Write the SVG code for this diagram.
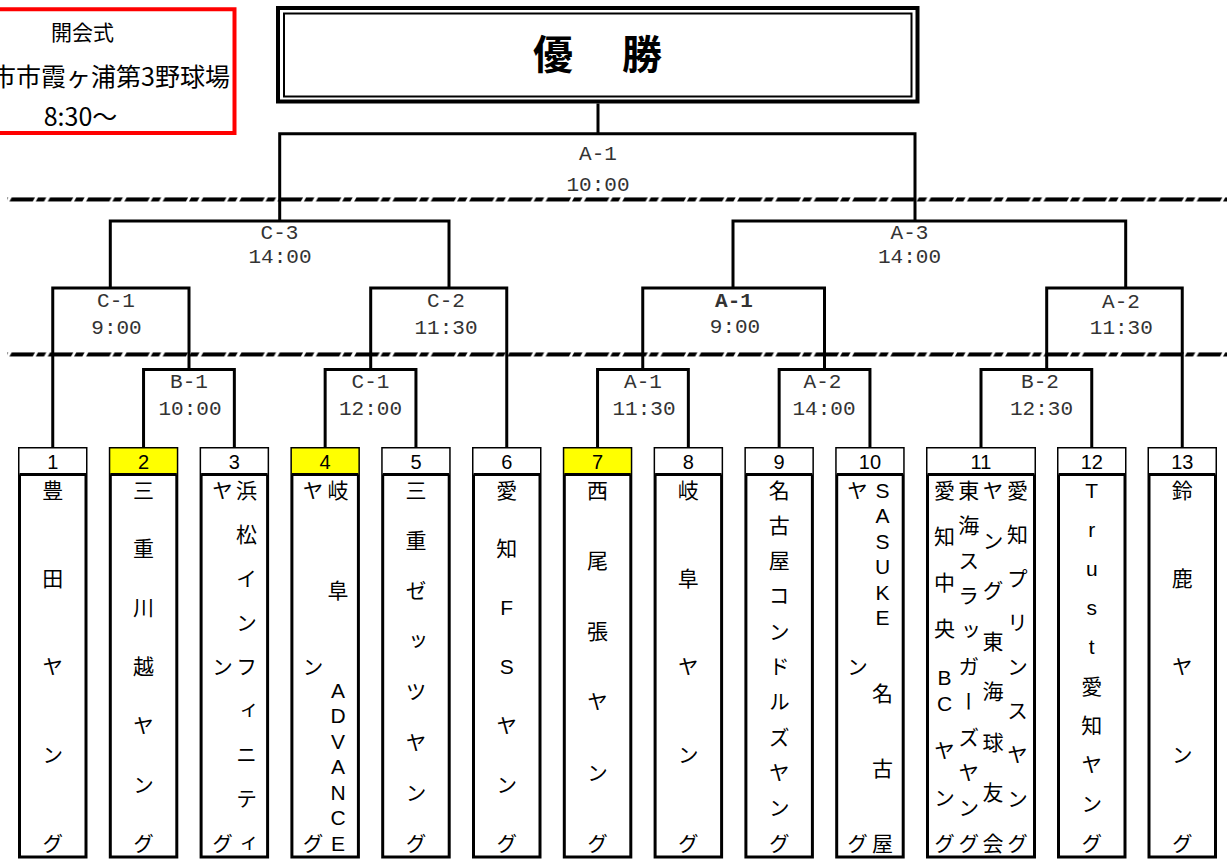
<svg xmlns="http://www.w3.org/2000/svg" width="1227" height="859" viewBox="0 0 1227 859">
<style>
.bg{fill:#ffffff}
.conn{fill:none;stroke:#000;stroke-width:3;stroke-linejoin:miter}
.lbl{font-family:"Liberation Mono","Noto Sans CJK JP",monospace;font-size:21px;fill:#333;text-anchor:middle}
.box{fill:#fff;stroke:#000;stroke-width:3}
.hdr{fill:#fff}
.hdr.win{fill:#ffff00}
.div{stroke:#000;stroke-width:3}
.num{font-family:"Liberation Sans","Noto Sans CJK JP",sans-serif;font-size:20px;fill:#000;text-anchor:middle}
.team{font-family:"Liberation Sans","Noto Sans CJK JP",sans-serif;font-size:21px;fill:#000;text-anchor:middle;font-feature-settings:"vert" 1}
.jp{font-family:"Noto Sans CJK JP",sans-serif;fill:#000}
</style>
<defs>
<pattern id="dashpat" patternUnits="userSpaceOnUse" x="9.3" y="197.25" width="38.3" height="155">
<polygon points="0,4.5 23.3,4.5 25.8,0 2.5,0" fill="#000"/>
<polygon points="26.3,4.5 34.6,4.5 37.1,0 28.8,0" fill="#000"/>
</pattern>
</defs>
<rect class="bg" x="0" y="0" width="1227" height="859"/>

<g id="dividers">
<rect x="7" y="197.25" width="1220" height="4.5" fill="url(#dashpat)"/>
<rect x="7" y="352.25" width="1220" height="4.5" fill="url(#dashpat)"/>
</g>

<g id="opening">
<rect x="-73" y="9.25" width="307.5" height="123.75" fill="#fff" stroke="#ff0000" stroke-width="4"/>
<text class="jp" x="82.5" y="40" font-size="21" text-anchor="middle" fill="#222">開会式</text>
<text class="jp" x="230" y="86" font-size="25" text-anchor="end">市市霞ヶ浦第3野球場</text>
<text class="jp" x="80.5" y="125.5" font-size="25" text-anchor="middle">8:30〜</text>
</g>

<g id="champion">
<rect x="278" y="8" width="639.5" height="93.5" fill="#fff" stroke="#000" stroke-width="4"/>
<rect x="284" y="13.5" width="627.5" height="83" fill="none" stroke="#000" stroke-width="2"/>
<text class="jp" x="553 597.5 642" y="69" font-size="40" font-weight="bold" text-anchor="middle">優　勝</text>
</g>

<g id="connectors">
<path class="conn" d="M598,103.5 V133.7"/>
<path class="conn" d="M279.7,221 V133.7 H915 V221"/>
<path class="conn" d="M110.3,288 V221 H449 V288"/>
<path class="conn" d="M733,288 V221 H1125.7 V288"/>
<path class="conn" d="M52.75,448.5 V288 H189 V369.5"/>
<path class="conn" d="M370.7,369.5 V288 H506.75 V448.5"/>
<path class="conn" d="M642.75,369.5 V288 H824.5 V369.5"/>
<path class="conn" d="M1046.7,369.5 V288 H1182.25 V448.5"/>
<path class="conn" d="M143.55,448.5 V369.5 H234.35 V448.5"/>
<path class="conn" d="M325.15,448.5 V369.5 H415.95 V448.5"/>
<path class="conn" d="M597.55,448.5 V369.5 H688.35 V448.5"/>
<path class="conn" d="M779.15,448.5 V369.5 H869.95 V448.5"/>
<path class="conn" d="M981,448.5 V369.5 H1091.75 V448.5"/>
</g>

<g id="match-labels">
<text class="lbl" x="598" y="160">A-1</text><text class="lbl" x="598" y="191">10:00</text>
<text class="lbl" x="279.5" y="238.5">C-3</text><text class="lbl" x="280" y="262.7">14:00</text>
<text class="lbl" x="909.5" y="239">A-3</text><text class="lbl" x="909.5" y="263">14:00</text>
<text class="lbl" x="116" y="307.3">C-1</text><text class="lbl" x="116.5" y="334">9:00</text>
<text class="lbl" x="446" y="307.3">C-2</text><text class="lbl" x="446" y="334">11:30</text>
<text class="lbl" x="734" y="307.3" font-weight="bold" fill="#000">A-1</text><text class="lbl" x="735" y="333.3">9:00</text>
<text class="lbl" x="1121" y="307.5">A-2</text><text class="lbl" x="1121.3" y="334">11:30</text>
<text class="lbl" x="189" y="388.3">B-1</text><text class="lbl" x="190" y="415">10:00</text>
<text class="lbl" x="370.5" y="388.3">C-1</text><text class="lbl" x="370.5" y="415">12:00</text>
<text class="lbl" x="643" y="388.3">A-1</text><text class="lbl" x="644" y="415">11:30</text>
<text class="lbl" x="822.5" y="388.3">A-2</text><text class="lbl" x="824" y="415">14:00</text>
<text class="lbl" x="1040" y="388.3">B-2</text><text class="lbl" x="1041.5" y="415">12:30</text>
</g>

<g id="team1">
<rect class="box" x="19.5" y="448.5" width="66.5" height="408.5"/>
<rect class="hdr" x="19.5" y="448.5" width="66.5" height="26"/>
<line class="div" x1="19.5" y1="474.5" x2="86" y2="474.5"/>
<text class="num" x="52.75" y="469">1</text>
<text class="team" x="52.75 52.75 52.75 52.75 52.75" y="497.5 585.75 674 762.25 850.5">豊田ヤング</text>
</g>

<g id="team2">
<rect class="box" x="110.3" y="448.5" width="66.5" height="408.5"/>
<rect class="hdr win" x="110.3" y="448.5" width="66.5" height="26"/>
<line class="div" x1="110.3" y1="474.5" x2="176.8" y2="474.5"/>
<text class="num" x="143.55" y="469">2</text>
<text class="team" x="143.55 143.55 143.55 143.55 143.55 143.55 143.55" y="497.5 556.33 615.17 674 732.83 791.67 850.5">三重川越ヤング</text>
</g>

<g id="team3">
<rect class="box" x="201.1" y="448.5" width="66.5" height="408.5"/>
<rect class="hdr" x="201.1" y="448.5" width="66.5" height="26"/>
<line class="div" x1="201.1" y1="474.5" x2="267.6" y2="474.5"/>
<text class="num" x="234.35" y="469">3</text>
<text class="team" x="246.5 246.5 246.5 246.5 246.5 246.5 246.5 246.5 246.5" y="497.5 541.63 585.75 629.88 674 718.13 762.25 806.38 850.5">浜松インフィニティ</text>
<text class="team" x="222.5 222.5 222.5" y="497.5 674 850.5">ヤング</text>
</g>

<g id="team4">
<rect class="box" x="291.9" y="448.5" width="66.5" height="408.5"/>
<rect class="hdr win" x="291.9" y="448.5" width="66.5" height="26"/>
<line class="div" x1="291.9" y1="474.5" x2="358.4" y2="474.5"/>
<text class="num" x="325.15" y="469">4</text>
<text class="team" x="338 338 338 338 338 338 338 338 338" y="497.5 597.5 697.5 723 748.5 774 799.5 825 850.5">岐阜ADVANCE</text>
<text class="team" x="313 313 313" y="497.5 674 850.5">ヤング</text>
</g>

<g id="team5">
<rect class="box" x="382.7" y="448.5" width="66.5" height="408.5"/>
<rect class="hdr" x="382.7" y="448.5" width="66.5" height="26"/>
<line class="div" x1="382.7" y1="474.5" x2="449.2" y2="474.5"/>
<text class="num" x="415.95" y="469">5</text>
<text class="team" x="415.95 415.95 415.95 415.95 415.95 415.95 415.95 415.95" y="497.5 547.93 598.36 648.79 699.21 749.64 800.07 850.5">三重ゼッツヤング</text>
</g>

<g id="team6">
<rect class="box" x="473.5" y="448.5" width="66.5" height="408.5"/>
<rect class="hdr" x="473.5" y="448.5" width="66.5" height="26"/>
<line class="div" x1="473.5" y1="474.5" x2="540" y2="474.5"/>
<text class="num" x="506.75" y="469">6</text>
<text class="team" x="506.75 506.75 506.75 506.75 506.75 506.75 506.75" y="497.5 556.33 615.17 674 732.83 791.67 850.5">愛知FSヤング</text>
</g>

<g id="team7">
<rect class="box" x="564.3" y="448.5" width="66.5" height="408.5"/>
<rect class="hdr win" x="564.3" y="448.5" width="66.5" height="26"/>
<line class="div" x1="564.3" y1="474.5" x2="630.8" y2="474.5"/>
<text class="num" x="597.55" y="469">7</text>
<text class="team" x="597.55 597.55 597.55 597.55 597.55 597.55" y="497.5 568.1 638.7 709.3 779.9 850.5">西尾張ヤング</text>
</g>

<g id="team8">
<rect class="box" x="655.1" y="448.5" width="66.5" height="408.5"/>
<rect class="hdr" x="655.1" y="448.5" width="66.5" height="26"/>
<line class="div" x1="655.1" y1="474.5" x2="721.6" y2="474.5"/>
<text class="num" x="688.35" y="469">8</text>
<text class="team" x="688.35 688.35 688.35 688.35 688.35" y="497.5 585.75 674 762.25 850.5">岐阜ヤング</text>
</g>

<g id="team9">
<rect class="box" x="745.9" y="448.5" width="66.5" height="408.5"/>
<rect class="hdr" x="745.9" y="448.5" width="66.5" height="26"/>
<line class="div" x1="745.9" y1="474.5" x2="812.4" y2="474.5"/>
<text class="num" x="779.15" y="469">9</text>
<text class="team" x="779.15 779.15 779.15 779.15 779.15 779.15 779.15 779.15 779.15 779.15 779.15" y="497.5 532.8 568.1 603.4 638.7 674 709.3 744.6 779.9 815.2 850.5">名古屋コンドルズヤング</text>
</g>

<g id="team10">
<rect class="box" x="836.7" y="448.5" width="66.5" height="408.5"/>
<rect class="hdr" x="836.7" y="448.5" width="66.5" height="26"/>
<line class="div" x1="836.7" y1="474.5" x2="903.2" y2="474.5"/>
<text class="num" x="869.95" y="469">10</text>
<text class="team" x="882.5 882.5 882.5 882.5 882.5 882.5 882.5 882.5 882.5" y="497.5 523 548.5 574 599.5 625 700.5 775.5 850.5">SASUKE名古屋</text>
<text class="team" x="857.5 857.5 857.5" y="497.5 674 850.5">ヤング</text>
</g>

<g id="team11">
<rect class="box" x="927.5" y="448.5" width="107" height="408.5"/>
<rect class="hdr" x="927.5" y="448.5" width="107" height="26"/>
<line class="div" x1="927.5" y1="474.5" x2="1034.5" y2="474.5"/>
<text class="num" x="981" y="469">11</text>
<text class="team" x="1017.4 1017.4 1017.4 1017.4 1017.4 1017.4 1017.4 1017.4 1017.4" y="497.5 541.63 585.75 629.88 674 718.13 762.25 806.38 850.5">愛知プリンスヤング</text>
<text class="team" x="993.1 993.1 993.1 993.1 993.1 993.1 993.1 993.1" y="497.5 547.93 598.36 648.79 699.21 749.64 800.07 850.5">ヤング東海球友会</text>
<text class="team" x="968.8 968.8 968.8 968.8 968.8 968.8 968.8 968.8 968.8 968.8 968.8" y="497.5 532.8 568.1 603.4 638.7 674 709.3 744.6 779.9 815.2 850.5">東海スラッガーズヤング</text>
<text class="team" x="944.5 944.5 944.5 944.5 944.5 944.5 944.5 944.5 944.5" y="497.5 543.5 589.5 635.5 684.5 710.5 757.5 804.5 850.5">愛知中央BCヤング</text>
</g>

<g id="team12">
<rect class="box" x="1058.5" y="448.5" width="66.5" height="408.5"/>
<rect class="hdr" x="1058.5" y="448.5" width="66.5" height="26"/>
<line class="div" x1="1058.5" y1="474.5" x2="1125" y2="474.5"/>
<text class="num" x="1091.75" y="469">12</text>
<text class="team" x="1091.75 1091.75 1091.75 1091.75 1091.75 1091.75 1091.75 1091.75 1091.75 1091.75" y="497.5 536.72 575.94 615.17 654.39 693.61 732.83 772.06 811.28 850.5">Trust愛知ヤング</text>
</g>

<g id="team13">
<rect class="box" x="1149" y="448.5" width="66.5" height="408.5"/>
<rect class="hdr" x="1149" y="448.5" width="66.5" height="26"/>
<line class="div" x1="1149" y1="474.5" x2="1215.5" y2="474.5"/>
<text class="num" x="1182.25" y="469">13</text>
<text class="team" x="1182.25 1182.25 1182.25 1182.25 1182.25" y="497.5 585.75 674 762.25 850.5">鈴鹿ヤング</text>
</g>
</svg>
